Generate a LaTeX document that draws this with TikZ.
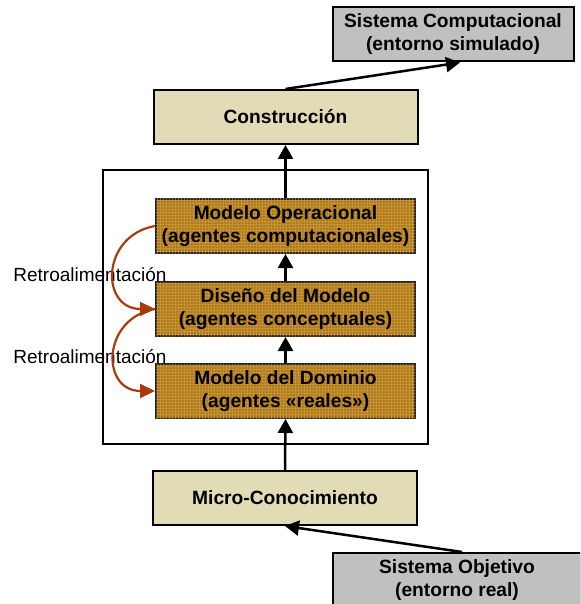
\documentclass[tikz,border=0pt]{standalone}
\usepackage{fontspec}
\setmainfont{Liberation Sans}
\usetikzlibrary{arrows.meta,calc,patterns.meta}

\definecolor{graybox}{RGB}{192,192,192}
\definecolor{beige}{RGB}{226,220,182}
\definecolor{brownbase}{RGB}{178,124,26}
\definecolor{brownmesh}{RGB}{206,158,70}
\definecolor{rust}{RGB}{168,58,12}

\tikzdeclarepattern{
  name=mesh,
  type=uncolored,
  bounding box={(0,0) and (1.6pt,1.6pt)},
  tile size={(1.6pt,1.6pt)},
  code={
    \draw[line width=0.3pt] (0,0.8pt) -- (1.6pt,0.8pt);
    \draw[line width=0.3pt] (0.8pt,0) -- (0.8pt,1.6pt);
  }
}

\tikzset{
  txt/.style={font=\fontsize{9.6pt}{11.5pt}\selectfont\bfseries, align=center,
    inner sep=0pt, minimum height=27pt},
  graynode/.style={txt, draw=black, line width=1pt, fill=graybox, minimum width=120.5pt},
  beigenode/.style={txt, draw=black, line width=1pt, fill=beige, minimum width=132pt},
  brownnode/.style={txt, draw=black!85, line width=1pt, fill=brownbase,
    minimum width=129.5pt, postaction={pattern=mesh, pattern color=brownmesh}},
  flow/.style={line width=1.25pt, -{Triangle[length=7pt, width=7.5pt]}},
  feedback/.style={rust, line width=1.1pt, -{Triangle[length=7.5pt, width=7pt]}},
  lbl/.style={font=\fontsize{9.5pt}{11.5pt}\selectfont, inner sep=0pt, anchor=base west},
}

\begin{document}
\begin{tikzpicture}[x=0.5pt, y=-0.5pt]
  \useasboundingbox (0,0) rectangle (580,604);
  \clip (0,0) rectangle (580,604);

  % enclosing frame around the three model layers
  \draw[line width=0.75pt] (103,170) rectangle (428,444);

  \node[graynode]  (sc)    at (453,34.5)  {Sistema Computacional\\(entorno simulado)};
  \node[beigenode] (cons)  at (285.5,117) {Construcción};
  \node[brownnode] (op)    at (285.5,226) {Modelo Operacional\\(agentes computacionales)};
  \node[brownnode] (dis)   at (285.5,309) {Diseño del Modelo\\(agentes conceptuales)};
  \node[brownnode] (dom)   at (285.5,391) {Modelo del Dominio\\(agentes «reales»)};
  \node[beigenode] (micro) at (285,498)   {Micro-Conocimiento};
  \node[graynode, minimum width=124pt] (so) at (457,580) {Sistema Objetivo\\(entorno real)};

  % bottom-up flow
  \draw[flow] (micro.north) -- (dom.south);
  \draw[flow] (dom.north) -- (dis.south);
  \draw[flow] (dis.north) -- (op.south);
  \draw[flow] (op.north) -- (cons.south);
  \draw[flow] (cons.north) -- ($(sc.south)+(7,0)$);
  \draw[flow] ($(so.north)+(5,0)$) -- (micro.south);

  % feedback loops
  \node[lbl] (fb1) at (13,281) {Retroalimentación};
  \node[lbl] (fb2) at (13,363) {Retroalimentación};
  \draw[feedback] (op.west) to[out=190, in=180, looseness=1.7] (dis.west);
  \draw[feedback] (dis.west) to[out=190, in=180, looseness=1.7] (dom.west);
\end{tikzpicture}
\end{document}
